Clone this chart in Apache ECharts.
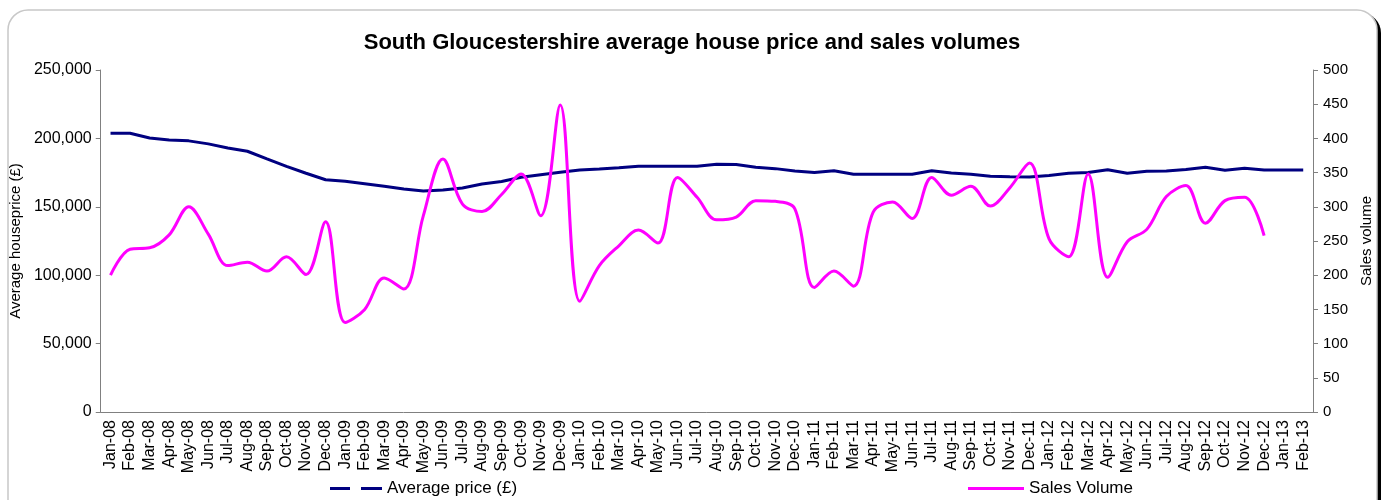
<!DOCTYPE html>
<html>
<head>
<meta charset="utf-8">
<script src="https://cdn.jsdelivr.net/npm/echarts@6/dist/echarts.min.js"></script>
<style>
  html, body { margin: 0; padding: 0; background: #fff; }
  #chart { width: 1384px; height: 500px; }
</style>
</head>
<body>
<div id="chart"></div>
<script>
// months Jan-08 .. Feb-13
var months = ['Jan-08','Feb-08','Mar-08','Apr-08','May-08','Jun-08','Jul-08','Aug-08','Sep-08','Oct-08','Nov-08','Dec-08',
  'Jan-09','Feb-09','Mar-09','Apr-09','May-09','Jun-09','Jul-09','Aug-09','Sep-09','Oct-09','Nov-09','Dec-09',
  'Jan-10','Feb-10','Mar-10','Apr-10','May-10','Jun-10','Jul-10','Aug-10','Sep-10','Oct-10','Nov-10','Dec-10',
  'Jan-11','Feb-11','Mar-11','Apr-11','May-11','Jun-11','Jul-11','Aug-11','Sep-11','Oct-11','Nov-11','Dec-11',
  'Jan-12','Feb-12','Mar-12','Apr-12','May-12','Jun-12','Jul-12','Aug-12','Sep-12','Oct-12','Nov-12','Dec-12',
  'Jan-13','Feb-13'];

var avgPrice = [203800,203800,200300,198900,198200,196000,193000,190600,185000,179600,174500,169800,
  168600,166900,165000,163000,161500,162300,163800,166700,168500,171600,173500,175200,
  176900,177700,178600,179600,179600,179600,179600,181100,181000,178900,177900,176200,
  175000,176400,173800,173800,173800,173800,176400,174700,173800,172300,172000,171800,
  172800,174500,175000,177100,174500,176000,176200,177200,178900,176700,178200,176900,
  176900,176900];

// no figure for Jan-13 / Feb-13
var salesVolume = [200,238,240,259,300,260,214,219,206,227,201,278,
  131,150,196,180,287,370,304,293,318,348,287,449,
  162,214,243,266,247,343,314,281,285,309,308,297,
  182,206,184,292,307,283,343,317,330,301,328,364,
  253,227,348,197,249,267,315,331,276,309,314,258,
  null,null];

var leftTicks = [0, 250000, 50000];
var rightTicks = [0, 500, 50];

var chart = echarts.init(document.getElementById('chart'));
var font = 'Liberation Sans, Arial, sans-serif';

chart.setOption({
  animation: false,
  textStyle: { fontFamily: font },
  graphic: [
    { type: 'rect', z: -10, shape: { x: 11, y: 13, width: 1370, height: 530, r: 20 },
      style: { fill: '#000' } },
    { type: 'rect', z: -9, shape: { x: 8, y: 10, width: 1369, height: 528, r: 20 },
      style: { fill: '#fff', stroke: '#c8c8c8', lineWidth: 1.5 } }
  ],
  title: {
    text: 'South Gloucestershire average house price and sales volumes',
    left: 'center', top: 27,
    textStyle: { fontFamily: font, fontSize: 22, fontWeight: 'bold', color: '#000' }
  },
  legend: [
    {
      left: 325, top: 475,
      itemWidth: 52, itemHeight: 10,
      textStyle: { fontFamily: font, fontSize: 17, color: '#000' },
      data: [{ name: 'Average price (£)', icon: 'path://M0,3.5 L20,3.5 L20,6.5 L0,6.5 Z M31,3.5 L52,3.5 L52,6.5 L31,6.5 Z' }]
    },
    {
      left: 963, top: 475,
      itemWidth: 56, itemHeight: 10,
      textStyle: { fontFamily: font, fontSize: 17, color: '#000' },
      data: [{ name: 'Sales Volume', icon: 'path://M0,3.5 L56,3.5 L56,6.5 L0,6.5 Z' }]
    }
  ],
  grid: { left: 97, right: 71, top: 70, bottom: 88 },
  xAxis: {
    type: 'category',
    data: months,
    boundaryGap: true,
    axisLine: { lineStyle: { color: '#808080', width: 1 } },
    axisTick: { alignWithLabel: false, length: 5, lineStyle: { color: '#808080' } },
    axisLabel: { rotate: 90, interval: 0, margin: 8, fontSize: 16, color: '#000', fontFamily: font }
  },
  yAxis: [
    {
      type: 'value', min: leftTicks[0], max: leftTicks[1], interval: leftTicks[2],
      name: 'Average houseprice (£)', nameLocation: 'middle', nameGap: 72,
      nameTextStyle: { fontSize: 15, color: '#000', fontFamily: font },
      splitLine: { show: false },
      axisLine: { show: true, lineStyle: { color: '#808080' } },
      axisTick: { show: true, length: 5, lineStyle: { color: '#808080' } },
      axisLabel: {
        fontSize: 16, color: '#000', fontFamily: font, margin: 9,
        formatter: function (v) { return v.toLocaleString('en-GB'); }
      }
    },
    {
      type: 'value', position: 'right', min: rightTicks[0], max: rightTicks[1], interval: rightTicks[2],
      name: 'Sales volume', nameLocation: 'middle', nameGap: 46,
      nameTextStyle: { fontSize: 15, color: '#000', fontFamily: font },
      splitLine: { show: false },
      axisLine: { show: true, lineStyle: { color: '#808080' } },
      axisTick: { show: true, inside: false, length: 5, lineStyle: { color: '#808080' } },
      axisLabel: { fontSize: 15, color: '#000', fontFamily: font, margin: 10 }
    }
  ],
  series: [
    {
      name: 'Average price (£)', type: 'line', yAxisIndex: 0,
      data: avgPrice, showSymbol: false,
      lineStyle: { color: '#000080', width: 3 }, itemStyle: { color: '#000080' }
    },
    {
      name: 'Sales Volume', type: 'line', yAxisIndex: 1,
      data: salesVolume, showSymbol: false, smooth: 0.35,
      lineStyle: { color: '#ff00ff', width: 3 }, itemStyle: { color: '#ff00ff' }
    }
  ]
});
</script>
</body>
</html>
